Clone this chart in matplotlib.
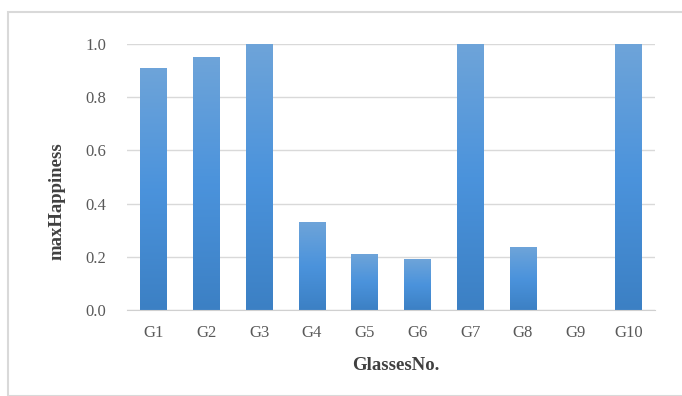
import numpy as np
import matplotlib.pyplot as plt
from matplotlib.patches import Rectangle
from matplotlib.colors import LinearSegmentedColormap

# data
glasses = ['G1', 'G2', 'G3', 'G4', 'G5', 'G6', 'G7', 'G8', 'G9', 'G10']
max_happiness = [0.91, 0.95, 1.0, 0.33, 0.21, 0.19, 1.0, 0.235, 0.0, 1.0]
yticks = [0.0, 0.2, 0.4, 0.6, 0.8, 1.0]

plt.rcParams['font.family'] = ['Liberation Serif', 'DejaVu Serif']

fig = plt.figure(figsize=(6.82, 3.96), dpi=100)
ax = fig.add_axes([127/682, 1 - 310/396, 528/682, 266/396])

x = np.arange(len(glasses))
bars = ax.bar(x, max_happiness, width=0.5, color='#4a8fd6', zorder=2)

# vertical gradient inside each bar (lighter top, darker bottom)
cmap = LinearSegmentedColormap.from_list('barfill', ['#3c80c4', '#4b93dc', '#6ea4d9'])
grad = np.linspace(0, 1, 256).reshape(-1, 1)
for b in bars:
    h = b.get_height()
    if h <= 0:
        b.set_visible(False)
        continue
    bx, bw = b.get_x(), b.get_width()
    im = ax.imshow(grad, cmap=cmap, origin='lower', aspect='auto',
                   extent=[bx, bx + bw, 0, h], zorder=3)
    im.set_clip_path(b)

ax.set_xlim(-0.5, len(glasses) - 0.5)
ax.set_ylim(0, 1.0)
ax.set_yticks(yticks)
ax.set_yticklabels([f'{v:.1f}' for v in yticks])
ax.set_xticks(x)
ax.set_xticklabels(glasses)
ax.tick_params(length=0, labelsize=12, colors='#595959')
ax.tick_params(axis='y', pad=15)
ax.tick_params(axis='x', pad=11)

ax.grid(axis='y', color='#d9d9d9', linewidth=1, zorder=0)
for s in ['top', 'right', 'left']:
    ax.spines[s].set_visible(False)
ax.spines['bottom'].set_color('#d0d0d0')
ax.spines['bottom'].set_zorder(4)

ax.set_ylabel('maxHappiness', fontsize=13.5, fontweight='bold', color='#404040', labelpad=14)
ax.set_xlabel('GlassesNo.', fontsize=13.5, fontweight='bold', color='#404040', labelpad=11)
ax.yaxis.label.set_y(0.41)
ax.xaxis.label.set_x(0.51)

# outer chart border
fig.patches.append(Rectangle((8/682, 0), 1, 1 - 12/396, transform=fig.transFigure,
                             fill=False, edgecolor='#d9d9d9', linewidth=1.5))

fig.savefig('out.png', dpi=100)
